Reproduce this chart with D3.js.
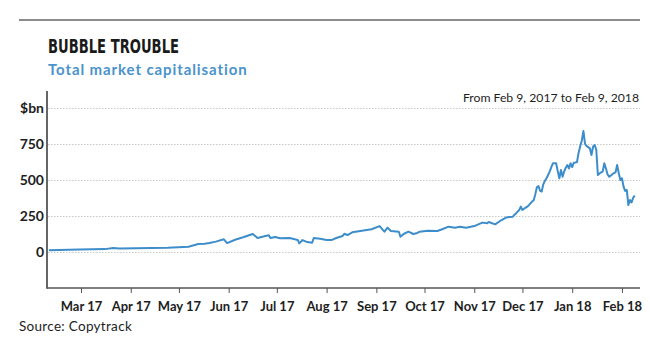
<!DOCTYPE html>
<html>
<head>
<meta charset="utf-8">
<script src="https://cdn.jsdelivr.net/npm/d3@7"></script>
<style>
  html, body { margin: 0; padding: 0; background: #fff; }
  svg { display: block; }
</style>
</head>
<body>
<svg id="chart" width="650" height="359"></svg>
<script>
// ---- Data ----
const title = "BUBBLE TROUBLE";
const subtitle = "Total market capitalisation";
const rangeNote = "From Feb 9, 2017 to Feb 9, 2018";
const sourceNote = "Source: Copytrack";
const unitLabel = "$bn";

const dates = [
  "2017-02-09","2017-02-28","2017-03-16","2017-03-21","2017-03-25","2017-04-24",
  "2017-05-07","2017-05-13","2017-05-17","2017-05-20","2017-05-24","2017-05-29",
  "2017-05-31","2017-06-05","2017-06-10","2017-06-16","2017-06-19","2017-06-22",
  "2017-06-26","2017-06-27","2017-06-30","2017-07-03","2017-07-09","2017-07-14",
  "2017-07-15","2017-07-17","2017-07-20","2017-07-23","2017-07-24","2017-07-28",
  "2017-08-01","2017-08-04","2017-08-07","2017-08-11","2017-08-12","2017-08-14",
  "2017-08-17","2017-08-22","2017-08-29","2017-09-03","2017-09-06","2017-09-08",
  "2017-09-10","2017-09-15","2017-09-16","2017-09-18","2017-09-21","2017-09-24",
  "2017-09-26","2017-09-28","2017-10-03","2017-10-09","2017-10-12","2017-10-16",
  "2017-10-20","2017-10-23","2017-10-27","2017-11-01","2017-11-06","2017-11-09",
  "2017-11-10","2017-11-14","2017-11-18","2017-11-21","2017-11-23","2017-11-25",
  "2017-11-26","2017-11-27","2017-11-28","2017-11-29","2017-11-30","2017-12-01",
  "2017-12-02","2017-12-03","2017-12-04","2017-12-05","2017-12-06","2017-12-07",
  "2017-12-08","2017-12-09","2017-12-10","2017-12-11","2017-12-12","2017-12-13",
  "2017-12-14","2017-12-15","2017-12-16","2017-12-17","2017-12-18","2017-12-19",
  "2017-12-20","2017-12-21","2017-12-22","2017-12-23","2017-12-24","2017-12-25",
  "2017-12-26","2017-12-27","2017-12-28","2017-12-29","2017-12-30","2017-12-31",
  "2018-01-01","2018-01-02","2018-01-03","2018-01-04","2018-01-05","2018-01-06",
  "2018-01-07","2018-01-08","2018-01-09","2018-01-10","2018-01-11","2018-01-12",
  "2018-01-13","2018-01-14","2018-01-15","2018-01-16","2018-01-17","2018-01-18",
  "2018-01-19","2018-01-20","2018-01-21","2018-01-22","2018-01-23","2018-01-24",
  "2018-01-25","2018-01-26","2018-01-27","2018-01-28","2018-01-29","2018-01-30",
  "2018-01-31","2018-02-01","2018-02-02","2018-02-03","2018-02-04","2018-02-05",
  "2018-02-06","2018-02-07","2018-02-08","2018-02-09"
];
const capBn = [
  13, 17, 20, 27, 24, 30,
  37, 55, 58, 62, 72, 88,
  62, 85, 102, 125, 97, 106,
  116, 97, 104, 95, 97, 83,
  60, 83, 69, 65, 97, 92,
  83, 83, 97, 111, 127, 118,
  137, 146, 158, 180, 141, 169,
  146, 141, 106, 125, 141, 125,
  130, 141, 148, 146, 158, 176,
  169, 176, 169, 180, 204, 199,
  208, 192, 222, 240, 243, 245,
  258, 268, 280, 292, 315, 292,
  300, 308, 315, 325, 338, 350,
  360, 400, 450, 458, 425, 420,
  470, 495, 512, 535, 560, 590,
  616, 616, 616, 560, 512, 569,
  523, 560, 585, 604, 581, 616,
  590, 620, 622, 625, 690, 735,
  775, 840, 750, 735, 728, 720,
  674, 731, 743, 710, 535, 545,
  553, 558, 616, 581, 540, 523,
  530, 540, 548, 553, 604, 547,
  500, 512, 454, 424, 431, 326,
  361, 345, 377, 391
];
const yTicks = [0, 250, 500, 750, 1000];
const yTickLabels = ["0", "250", "500", "750", "$bn"];
const xTickDates = ["2017-03-01","2017-04-01","2017-05-01","2017-06-01","2017-07-01","2017-08-01",
  "2017-09-01","2017-10-01","2017-11-01","2017-12-01","2018-01-01","2018-02-01"];
const xTickLabels = ["Mar 17","Apr 17","May 17","Jun 17","Jul 17","Aug 17",
  "Sep 17","Oct 17","Nov 17","Dec 17","Jan 18","Feb 18"];

// ---- Drawing ----
const parse = d3.utcParse("%Y-%m-%d");
const data = dates.map((d, i) => ({ date: parse(d), value: capBn[i] }));

const svg = d3.select("#chart");
const FONT = "Lato, 'Open Sans', sans-serif";
const INK = "#1e1e1e";
const BLUE = "#3d8dcb";

const plotLeft = 47, plotRight = 640, plotBottom = 288, axisTop = 91;

const x = d3.scaleUtc()
  .domain([parse("2017-02-09"), parse("2018-02-09")])
  .range([48.9, 634.8]);
const y = d3.scaleLinear().domain([-250, 1000]).range([288, 108]);

// top rule
svg.append("line")
  .attr("x1", 19).attr("x2", 640).attr("y1", 20).attr("y2", 20)
  .attr("stroke", "#666").attr("stroke-width", 1.3);

// title
svg.append("text")
  .attr("x", 48).attr("y", 53)
  .attr("font-family", "'Liberation Sans Narrow', 'DejaVu Sans Condensed', sans-serif")
  .attr("font-weight", "bold").attr("font-size", 19.5)
  .attr("fill", "#1a1a1a")
  .attr("textLength", 131).attr("lengthAdjust", "spacingAndGlyphs")
  .text(title);

svg.append("text")
  .attr("x", 48).attr("y", 75)
  .attr("font-family", FONT).attr("font-weight", "bold").attr("font-size", 15)
  .attr("letter-spacing", 0.9)
  .attr("fill", "#4a93cc")
  .text(subtitle);

// range note
svg.append("text")
  .attr("x", 639).attr("y", 102).attr("text-anchor", "end")
  .attr("font-family", FONT).attr("font-size", 12.2).attr("fill", INK)
  .text(rangeNote);

// gridlines
svg.append("g").selectAll("line").data(yTicks).join("line")
  .attr("x1", plotLeft + 1).attr("x2", plotRight)
  .attr("y1", d => Math.round(y(d)) + 0.5).attr("y2", d => Math.round(y(d)) + 0.5)
  .attr("stroke", "#c8c8c8").attr("stroke-width", 1)
  .attr("stroke-dasharray", "1.5,1.5");

// y labels
svg.append("g").selectAll("text").data(yTicks).join("text")
  .attr("x", 44).attr("y", d => y(d) + 5)
  .attr("text-anchor", "end")
  .attr("font-family", FONT).attr("font-weight", "bold").attr("font-size", 14)
  .attr("fill", INK)
  .text((d, i) => yTickLabels[i]);

// x axis
const xAxis = d3.axisBottom(x)
  .tickValues(xTickDates.map(parse))
  .tickFormat((d, i) => xTickLabels[i])
  .tickSize(5).tickPadding(6).tickSizeOuter(0);
const gx = svg.append("g").attr("transform", `translate(0,${plotBottom})`).call(xAxis);
gx.select(".domain").remove();
gx.selectAll(".tick line").attr("stroke", "#555").attr("stroke-width", 1);
gx.selectAll(".tick text")
  .attr("font-family", FONT).attr("font-weight", "bold").attr("font-size", 13)
  .attr("fill", INK).attr("dy", "0.95em");

// axis lines
svg.append("line")
  .attr("x1", plotLeft).attr("x2", plotRight).attr("y1", plotBottom).attr("y2", plotBottom)
  .attr("stroke", "#555").attr("stroke-width", 1.5);
svg.append("line")
  .attr("x1", plotLeft).attr("x2", plotLeft).attr("y1", axisTop).attr("y2", plotBottom + 0.75)
  .attr("stroke", "#555").attr("stroke-width", 1.8);

// data line
const line = d3.line().x(d => x(d.date)).y(d => y(d.value));
svg.append("path").datum(data)
  .attr("d", line)
  .attr("fill", "none").attr("stroke", BLUE)
  .attr("stroke-width", 2).attr("stroke-linejoin", "round");

// source
svg.append("text")
  .attr("x", 19).attr("y", 331)
  .attr("font-family", FONT).attr("font-size", 13.5).attr("letter-spacing", 0.3)
  .attr("fill", INK)
  .text(sourceNote);
</script>
</body>
</html>
